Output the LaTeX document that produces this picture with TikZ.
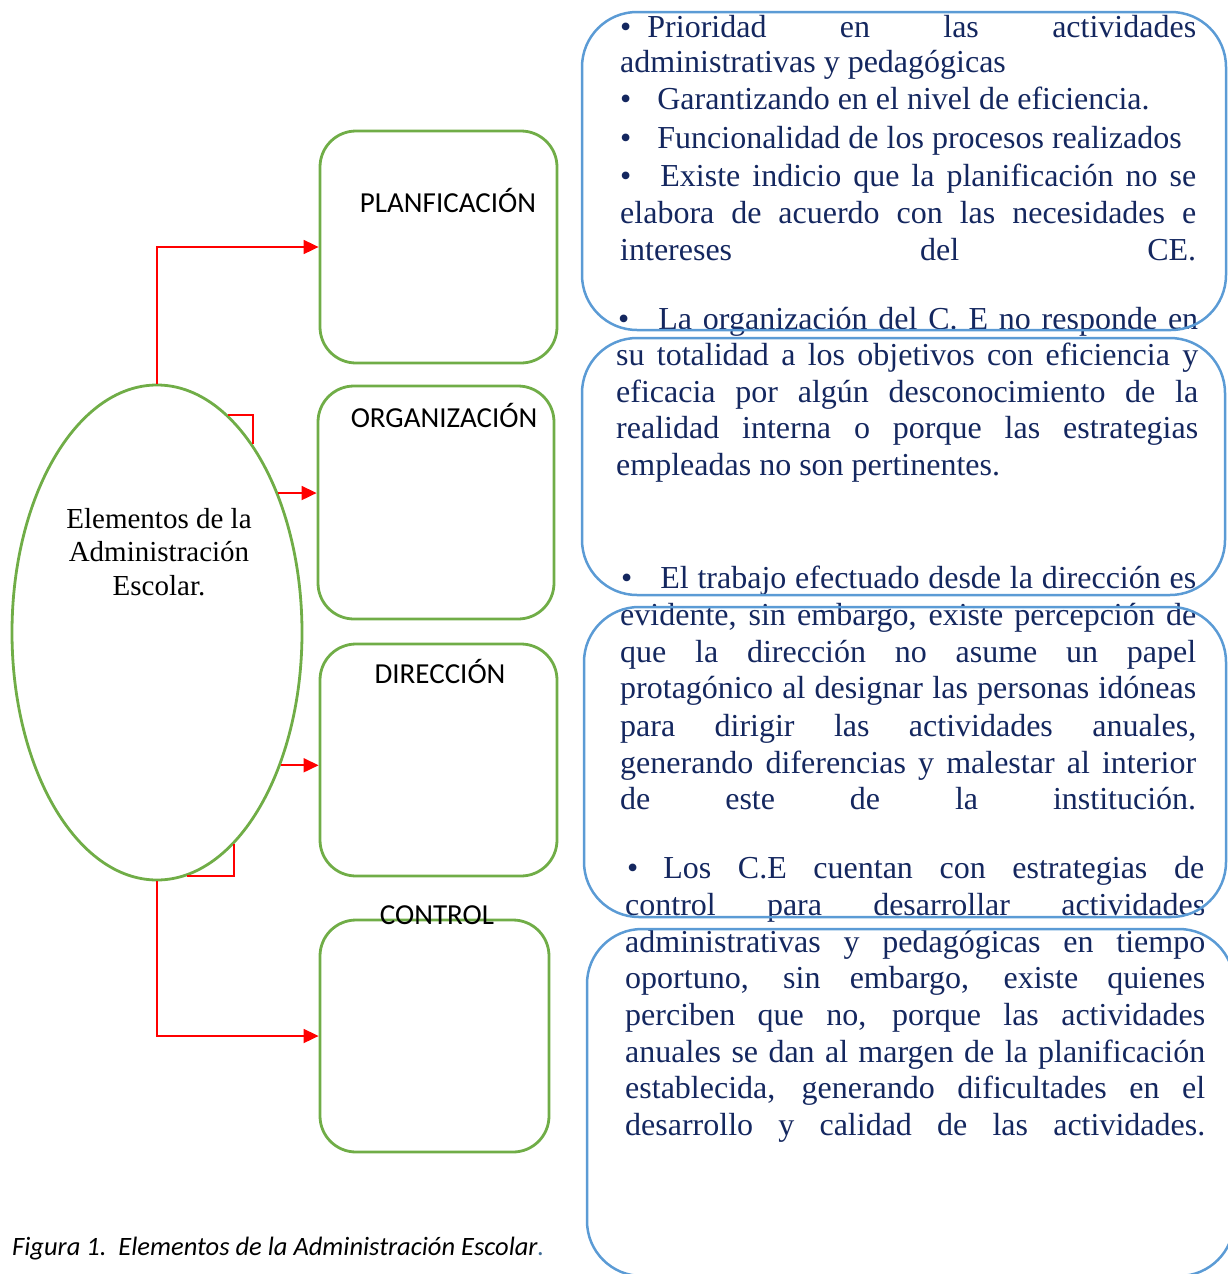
\documentclass[tikz,border=0pt]{standalone}
\usepackage{fontspec}
\setmainfont{Liberation Serif}
\newfontfamily\calibri{Carlito}
\usetikzlibrary{arrows.meta, shapes.geometric}
\definecolor{grn}{HTML}{70AD47}
\definecolor{sky}{HTML}{5B9BD5}
\definecolor{inkblue}{HTML}{14275F}
\newcommand{\bodysize}{\fontsize{32}{36.8}\selectfont}
\begin{document}
\begin{tikzpicture}[x=1pt, y=-1pt, >={Triangle[length=15pt, width=14pt]},
  gbox/.style={draw=grn, line width=2.8pt, rounded corners=36pt, minimum width=237pt, minimum height=232pt, inner sep=0pt},
  bbox/.style={draw=sky, line width=2.5pt, rounded corners=55pt},
  lbl/.style={anchor=base, inner sep=0pt, font=\calibri\fontsize{29}{33}\selectfont},
  txt/.style={anchor=base west, inner sep=0pt, text=inkblue, font=\bodysize},
  link/.style={->, red, line width=1.8pt}]
  \useasboundingbox (0,0) rectangle (1228,1274);

  % left side
  \node[ellipse, draw=grn, line width=2.8pt, minimum width=290pt, minimum height=495pt, inner sep=0pt] (elem) at (157,632.5) {};
  \node[align=center, anchor=base, inner sep=0pt, font=\fontsize{29}{33.5}\selectfont] (elemtxt) at (159,595) {Elementos de la\\Administración\\Escolar.};
  \node[gbox] (plan) at (438.5,247) {};
  \node[gbox, minimum width=236pt, minimum height=233pt] (org) at (436,502.5) {};
  \node[gbox] (dir) at (438.5,760) {};
  \node[gbox, minimum width=229pt] (ctrl) at (434.5,1036) {};
  \node[lbl] (planlbl) at (448,212) {PLANFICACIÓN};
  \node[lbl] (orglbl) at (444,427) {ORGANIZACIÓN};
  \node[lbl] (dirlbl) at (440,683) {DIRECCIÓN};
  \node[lbl] (ctrllbl) at (437,924) {CONTROL};

  \draw[link] (elem.north) |- (plan.west);
  \draw[red, line width=1.8pt] (elem.72.7) -| (elem.63.9);
  \draw[link] (elem.49.3) -- (elem.49.3 -| org.west);
  \draw[link] (elem.-47.6) -- (elem.-47.6 -| dir.west);
  \draw[red, line width=1.8pt] (elem.-70.6) |- (elem.-83);
  \draw[link] (elem.south) |- (ctrl.west);

  \node[anchor=base west, inner sep=0pt, font=\calibri\itshape\fontsize{26.5}{30}\selectfont] (cap) at (12,1255) {Figura 1.\ \ Elementos de la Administración Escolar\textcolor{sky!70!black}{.}};

  % right side text
  \node[txt] (a1) at (620,37) {\makebox[576pt][s]{•\hspace{16pt}Prioridad en las actividades}};
  \node[txt] (a2) at (620,72) {administrativas y pedagógicas};
  \node[txt] (a3) at (620,109) {•\hspace{26pt}Garantizando en el nivel de eficiencia.};
  \node[txt] (a4) at (620,148) {•\hspace{26pt}Funcionalidad de los procesos realizados};
  \node[txt] (a5) at (620,186) {\makebox[576pt][s]{•\hspace{29pt}Existe indicio que la planificación no se}};
  \node[txt] (a6) at (620,223) {\makebox[576pt][s]{elabora de acuerdo con las necesidades e}};
  \node[txt] (a7) at (620,260) {\makebox[576pt][s]{intereses del CE.}};
  \node[txt] (b1) at (618,329) {\makebox[580pt][s]{•\hspace{29pt}La organización del C. E no responde en}};
  \node[txt] (b2) at (616,365) {\makebox[582pt][s]{su totalidad a los objetivos con eficiencia y}};
  \node[txt] (b3) at (616,402) {\makebox[582pt][s]{eficacia por algún desconocimiento de la}};
  \node[txt] (b4) at (616,438) {\makebox[582pt][s]{realidad interna o porque las estrategias}};
  \node[txt] (b5) at (616,475) {empleadas no son pertinentes.};
  \node[txt] (c1) at (621,588) {\makebox[575pt][s]{•\hspace{28pt}El trabajo efectuado desde la dirección es}};
  \node[txt] (c2) at (620,625) {\makebox[576pt][s]{evidente, sin embargo, existe percepción de}};
  \node[txt] (c3) at (620,662) {\makebox[576pt][s]{que la dirección no asume un papel}};
  \node[txt] (c4) at (620,698) {\makebox[576pt][s]{protagónico al designar las personas idóneas}};
  \node[txt] (c5) at (620,736) {\makebox[576pt][s]{para dirigir las actividades anuales,}};
  \node[txt] (c6) at (620,773) {\makebox[576pt][s]{generando diferencias y malestar al interior}};
  \node[txt] (c7) at (620,809) {\makebox[576pt][s]{de este de la institución.}};
  \node[txt] (d1) at (627,878) {\makebox[577pt][s]{•\hspace{25pt}Los C.E cuentan con estrategias de}};
  \node[txt] (d2) at (625,915) {\makebox[580pt][s]{control para desarrollar actividades}};
  \node[txt] (d3) at (625,952) {\makebox[580pt][s]{administrativas y pedagógicas en tiempo}};
  \node[txt] (d4) at (625,988) {\makebox[580pt][s]{oportuno, sin embargo, existe quienes}};
  \node[txt] (d5) at (625,1025) {\makebox[580pt][s]{perciben que no, porque las actividades}};
  \node[txt] (d6) at (625,1062) {\makebox[580pt][s]{anuales se dan al margen de la planificación}};
  \node[txt] (d7) at (625,1098) {\makebox[580pt][s]{establecida, generando dificultades en el}};
  \node[txt] (d8) at (625,1135) {\makebox[580pt][s]{desarrollo y calidad de las actividades.}};

  % blue frames
  \draw[bbox] (582,12) rectangle (1226,330);
  \draw[bbox] (582,338) rectangle (1225,595);
  \draw[bbox] (584,607) rectangle (1226,917);
  \draw[bbox] (587,929) rectangle (1234,1276);
\end{tikzpicture}
\end{document}
